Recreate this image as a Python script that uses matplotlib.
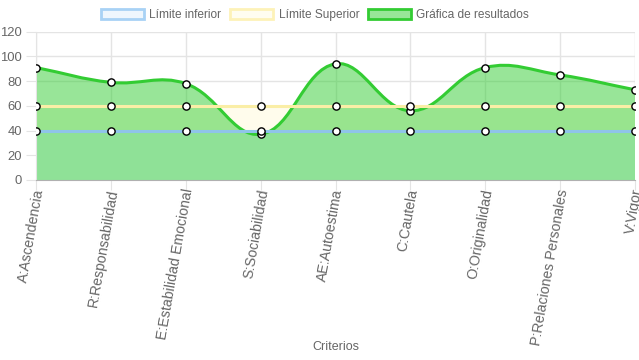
import matplotlib
matplotlib.use('Agg')
import matplotlib.pyplot as plt
from matplotlib.path import Path
from matplotlib.patches import PathPatch, Patch
import matplotlib.transforms as mtransforms
import numpy as np

CATEGORIES = ['A:Ascendencia', 'R:Responsabilidad', 'E:Estabilidad Emocional',
              'S:Sociabilidad', 'AE:Autoestima', 'C:Cautela', 'O:Originalidad',
              'P:Relaciones Personales', 'V:Vigor']
RESULTS = [91, 79, 78, 37, 94, 56, 91, 85, 73]
LOWER_LIMIT = [40, 40, 40, 40, 40, 40, 40, 40, 40]
UPPER_LIMIT = [60, 60, 60, 60, 60, 60, 60, 60, 60]
Y_TICKS = [0, 20, 40, 60, 80, 100, 120]

LEGEND_LABELS = ['Límite inferior', 'Límite Superior', 'Gráfica de resultados']

TEXT_COLOR = '#666666'
GRID_COLOR = '#e4e4e4'
TENSION = 0.4

# pixel scale used by the spline (x step ~75 px, y ~1.236 px per unit)
PX_X = 74.9
PX_Y = 1.236


def spline_path(values):
    # Chart.js style cubic bezier through the points
    xs = np.arange(len(values)) * PX_X
    ys = np.array(values, dtype=float) * PX_Y
    n = len(values)
    ctrl_prev, ctrl_next = [], []
    for i in range(n):
        p0 = (xs[max(i - 1, 0)], ys[max(i - 1, 0)])
        p1 = (xs[i], ys[i])
        p2 = (xs[min(i + 1, n - 1)], ys[min(i + 1, n - 1)])
        d01 = np.hypot(p1[0] - p0[0], p1[1] - p0[1])
        d12 = np.hypot(p2[0] - p1[0], p2[1] - p1[1])
        tot = d01 + d12
        s01 = d01 / tot if tot else 0
        s12 = d12 / tot if tot else 0
        fa, fb = TENSION * s01, TENSION * s12
        ctrl_prev.append((p1[0] - fa * (p2[0] - p0[0]), p1[1] - fa * (p2[1] - p0[1])))
        ctrl_next.append((p1[0] + fb * (p2[0] - p0[0]), p1[1] + fb * (p2[1] - p0[1])))
    verts = [(xs[0], ys[0])]
    codes = [Path.MOVETO]
    for i in range(1, n):
        verts += [ctrl_next[i - 1], ctrl_prev[i], (xs[i], ys[i])]
        codes += [Path.CURVE4] * 3
    verts = [(x / PX_X, min(max(y / PX_Y, 0), 120)) for x, y in verts]
    return verts, codes


fig = plt.figure(figsize=(6.39, 3.6), dpi=100)
plt.rcParams['font.family'] = ['Liberation Sans', 'DejaVu Sans']
ax = fig.add_axes([36 / 639, 0.5, (635 - 36) / 639, (180 - 31.7) / 360])

x = np.arange(len(CATEGORIES))

# fills: limits underneath, results fill over them
ax.fill_between(x, 0, LOWER_LIMIT, color='#eef7fe', lw=0, zorder=1)
ax.fill_between(x, LOWER_LIMIT, UPPER_LIMIT, color='#fffcec', lw=0, zorder=1)
verts, codes = spline_path(RESULTS)
fill_verts = verts + [(x[-1], 0), (x[0], 0), verts[0]]
fill_codes = codes + [Path.LINETO, Path.LINETO, Path.CLOSEPOLY]
ax.add_patch(PathPatch(Path(fill_verts, fill_codes), facecolor=(50 / 255, 205 / 255, 50 / 255, 0.5),
                       edgecolor='none', zorder=1.5))

# lines
ax.add_patch(PathPatch(Path(verts, codes), facecolor='none', edgecolor='#33cc33', lw=2.2, zorder=3))
ax.plot(x, UPPER_LIMIT, color='#faeea6', lw=2.2, zorder=3.1)
ax.plot(x, LOWER_LIMIT, color='#8fc4ea', lw=2.2, zorder=3.2)

# points
for series in (RESULTS, UPPER_LIMIT, LOWER_LIMIT):
    ax.plot(x, series, ls='none', marker='o', ms=5.2, mfc='white', mec='black', mew=1.0, zorder=4)

ax.set_xlim(x[0], x[-1])
ax.set_ylim(0, 120)
ax.set_yticks(Y_TICKS)
ax.set_xticks(x)
ax.set_xticklabels([])

# rotated category labels, nudged a few pixels to sit like the original
label_trans = (mtransforms.blended_transform_factory(ax.transData, ax.transAxes)
               + mtransforms.ScaledTranslation(3 / 100, -9 / 100, fig.dpi_scale_trans))
for xi, name in zip(x, CATEGORIES):
    ax.text(xi, 0, name, transform=label_trans, rotation=80, ha='right', va='center',
            rotation_mode='anchor', color=TEXT_COLOR, fontsize=10.2, clip_on=False)

ax.tick_params(axis='y', labelsize=9.4, labelcolor=TEXT_COLOR, length=7, color=GRID_COLOR, pad=3)
ax.tick_params(axis='x', length=7, color=GRID_COLOR, pad=1)
ax.grid(True, color=GRID_COLOR, lw=1)
ax.set_axisbelow(True)
for side in ('top', 'right'):
    ax.spines[side].set_visible(False)
ax.spines['left'].set_color(GRID_COLOR)
ax.spines['bottom'].set_color('#b0b0b0')

fig.text((36 + 635) / 2 / 639, 1 - 347 / 360, 'Criterios', ha='center', va='center',
         color=TEXT_COLOR, fontsize=9)

handles = [
    Patch(facecolor='#eef6fd', edgecolor='#a8d2f5', lw=2),
    Patch(facecolor='#fffdf0', edgecolor='#fdf2b8', lw=2),
    Patch(facecolor='#98e698', edgecolor='#33cc33', lw=2),
]
fig.legend(handles, LEGEND_LABELS, loc='center', bbox_to_anchor=(0.493, 1 - 15 / 360), ncol=3,
           frameon=False, fontsize=8.6, handlelength=3.6, handleheight=0.95, handletextpad=0.45,
           columnspacing=0.75, labelcolor=TEXT_COLOR)

fig.savefig('out.png', dpi=100)
